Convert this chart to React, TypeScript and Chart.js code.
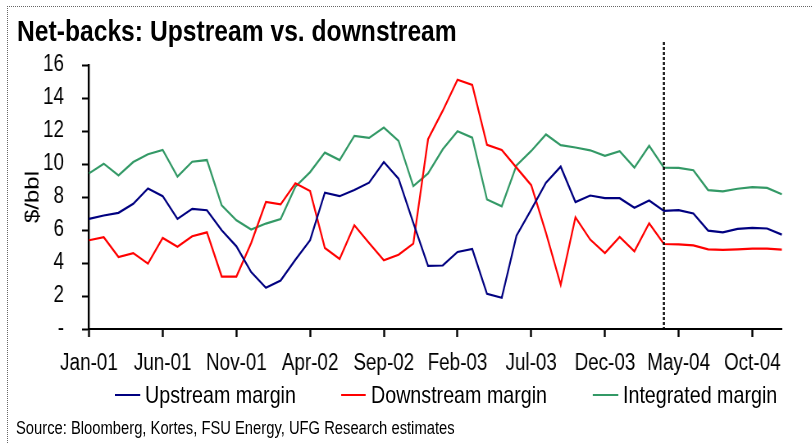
import React, { useEffect, useRef } from "react";
import { Chart, registerables } from "chart.js";

Chart.register(...registerables);

const months = [
  "Jan-01","Feb-01","Mar-01","Apr-01","May-01","Jun-01","Jul-01","Aug-01","Sep-01","Oct-01","Nov-01","Dec-01",
  "Jan-02","Feb-02","Mar-02","Apr-02","May-02","Jun-02","Jul-02","Aug-02","Sep-02","Oct-02","Nov-02","Dec-02",
  "Jan-03","Feb-03","Mar-03","Apr-03","May-03","Jun-03","Jul-03","Aug-03","Sep-03","Oct-03","Nov-03","Dec-03",
  "Jan-04","Feb-04","Mar-04","Apr-04","May-04","Jun-04","Jul-04","Aug-04","Sep-04","Oct-04","Nov-04","Dec-04",
];

const upstream = [
  6.67, 6.88, 7.04, 7.59, 8.52, 8.05, 6.67, 7.28, 7.2, 5.98, 5.01, 3.45,
  2.5, 2.94, 4.2, 5.38, 8.26, 8.05, 8.42, 8.87, 10.12, 9.11, 6.43, 3.83,
  3.85, 4.67, 4.85, 2.13, 1.89, 5.66, 7.24, 8.87, 9.84, 7.69, 8.09, 7.93,
  7.93, 7.35, 7.79, 7.16, 7.2, 7.0, 5.96, 5.86, 6.07, 6.13, 6.09, 5.72,
];

const downstream = [
  5.38, 5.56, 4.36, 4.6, 3.96, 5.52, 4.99, 5.62, 5.86, 3.18, 3.18, 5.21,
  7.7, 7.55, 8.83, 8.36, 4.91, 4.24, 6.29, 5.21, 4.16, 4.5, 5.17, 11.5,
  13.23, 15.11, 14.79, 11.16, 10.85, 9.78, 8.72, 5.82, 2.68, 6.77, 5.42, 4.6,
  5.58, 4.71, 6.41, 5.15, 5.13, 5.07, 4.83, 4.79, 4.83, 4.87, 4.87, 4.81,
];

const integrated = [
  9.43, 10.02, 9.31, 10.12, 10.59, 10.85, 9.23, 10.14, 10.24, 7.49, 6.59, 6.03,
  6.39, 6.67, 8.62, 9.51, 10.69, 10.24, 11.7, 11.58, 12.21, 11.4, 8.66, 9.43,
  10.89, 11.99, 11.6, 7.85, 7.44, 9.92, 10.79, 11.79, 11.14, 11.0, 10.83, 10.49,
  10.77, 9.78, 11.1, 9.78, 9.76, 9.62, 8.42, 8.34, 8.5, 8.6, 8.55, 8.17,
];

const yTickValues = [0, 2, 4, 6, 8, 10, 12, 14, 16];
const forecastStart = "Apr-04";
const seriesNames = ["Upstream margin", "Downstream margin", "Integrated margin"];
const seriesColors = ["#000080", "#FF0000", "#339966"];

// Arial Narrow is emulated by Liberation Sans drawn in a horizontally condensed box
const FONT = '"Liberation Sans", Arial, sans-serif';
const SX = 0.82;
const WIDE = 812 / SX;
const w = (px: number) => px / SX;

const dividerPlugin = {
  id: "divider",
  afterDatasetsDraw(chart: any) {
    const x = chart.scales.x.getPixelForValue(months.indexOf(forecastStart));
    const { top, bottom } = chart.chartArea;
    const ctx = chart.ctx;
    ctx.save();
    ctx.strokeStyle = "#000";
    ctx.lineWidth = 2.4;
    ctx.setLineDash([3, 2]);
    ctx.beginPath();
    ctx.moveTo(x, top - 23);
    ctx.lineTo(x, bottom);
    ctx.stroke();
    ctx.restore();
  },
};

export default function App() {
  const ref = useRef<HTMLCanvasElement | null>(null);

  useEffect(() => {
    document.body.style.margin = "0";
    const data = [upstream, downstream, integrated];
    const chart = new Chart(ref.current as HTMLCanvasElement, {
      type: "line",
      data: {
        labels: months,
        datasets: data.map((d, i) => ({
          label: seriesNames[i],
          data: d,
          borderColor: seriesColors[i],
          backgroundColor: seriesColors[i],
          borderWidth: 2.2,
          pointRadius: 0,
          tension: 0,
          fill: false,
        })),
      },
      options: {
        animation: false,
        responsive: false,
        maintainAspectRatio: false,
        layout: { padding: { top: 65, left: 0, right: w(30), bottom: 64 } },
        plugins: {
          legend: { display: false },
          tooltip: { enabled: false },
          title: { display: false },
        },
        scales: {
          x: {
            type: "category",
            offset: false,
            afterFit: (s: any) => { s.height = 50; },
            grid: {
              display: true,
              drawOnChartArea: false,
              drawTicks: true,
              tickLength: 8,
              tickColor: "#000",
              tickWidth: 2.4,
            },
            border: { display: true, color: "#000", width: 2 },
            ticks: {
              autoSkip: false,
              maxRotation: 0,
              minRotation: 0,
              padding: 13,
              color: "#000",
              font: { family: FONT, size: 23 },
              callback: (_v: any, i: number) => (i % 5 === 0 ? months[i] : null),
            },
          },
          y: {
            min: 0,
            max: 16,
            afterFit: (s: any) => { s.width = w(89); },
            afterBuildTicks: (s: any) => { s.ticks = yTickValues.map((v) => ({ value: v })); },
            grid: {
              display: true,
              drawOnChartArea: false,
              drawTicks: true,
              tickLength: w(7),
              tickColor: "#000",
              tickWidth: 2,
            },
            border: { display: true, color: "#000", width: 2.4 },
            title: {
              display: true,
              text: "$/bbl",
              color: "#000",
              font: { family: FONT, size: 24 },
              padding: { top: w(33) - 14.4, bottom: 0 },
            },
            ticks: {
              padding: w(18),
              color: "#000",
              font: { family: FONT, size: 23 },
              callback: (v: any) => (Number(v) === 0 ? "-" : String(v)),
            },
          },
        },
      },
      plugins: [dividerPlugin],
    });
    return () => chart.destroy();
  }, []);

  const legendPos = [115, 341, 593];

  return (
    <div style={{ position: "relative", width: 812, height: 443, background: "#fff", overflow: "hidden" }}>
      <div style={{ position: "absolute", left: 7, top: 6, right: 0, bottom: 0, borderTop: "1px dotted #666", borderLeft: "1px dotted #666" }} />
      <div style={{ position: "absolute", left: 0, top: 0, width: WIDE, height: 443, transform: `scaleX(${SX})`, transformOrigin: "0 0", fontFamily: FONT }}>
        <canvas ref={ref} width={Math.round(WIDE)} height={443} style={{ position: "absolute", left: 0, top: 0 }} />
        {seriesNames.map((n, i) => (
          <div key={n} style={{ position: "absolute", left: w(legendPos[i]), top: 381, display: "flex", alignItems: "center", whiteSpace: "nowrap", fontSize: 24, lineHeight: "28px", color: "#000" }}>
            <span style={{ display: "inline-block", width: w(25), height: 2, background: seriesColors[i], marginRight: w(5) }} />
            <span>{n}</span>
          </div>
        ))}
        <div style={{ position: "absolute", left: w(16), top: 418, fontSize: 18, color: "#000", whiteSpace: "nowrap", lineHeight: "20px" }}>
          Source: Bloomberg, Kortes, FSU Energy, UFG Research estimates
        </div>
      </div>
      <div style={{ position: "absolute", left: 17, top: 13, fontSize: 29, fontWeight: "bold", color: "#000", whiteSpace: "nowrap", lineHeight: "36px", fontFamily: FONT, transform: "scaleX(0.85)", transformOrigin: "0 0" }}>
        Net-backs: Upstream vs. downstream
      </div>
    </div>
  );
}
